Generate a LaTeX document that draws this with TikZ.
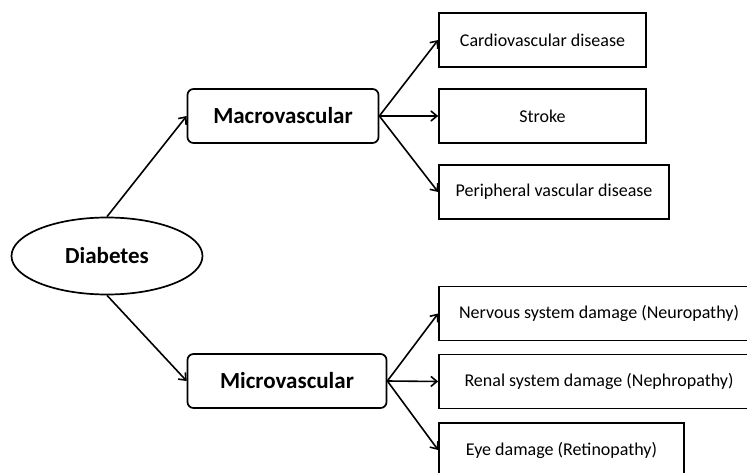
\documentclass[tikz,border=0pt]{standalone}
\usepackage{fontspec}
\setmainfont{Carlito}
\usetikzlibrary{arrows.meta,positioning,shapes.geometric}
\tikzset{
  rootnode/.style={ellipse, draw, line width=1.7pt, minimum width=191pt, minimum height=77pt, inner sep=0pt, font=\fontsize{23}{27}\selectfont\bfseries},
  groupbox/.style={draw, rounded corners=6pt, line width=1.7pt, minimum height=54pt, inner sep=0pt, font=\fontsize{23}{27}\selectfont\bfseries},
  itembox/.style={draw, line width=1.7pt, minimum height=54pt, inner sep=0pt, font=\fontsize{18}{21}\selectfont},
  link/.style={-{Straight Barb[length=6pt,width=10pt]}, line width=1.6pt}
}
\begin{document}
\begin{tikzpicture}[x=1pt,y=-1pt]
  \useasboundingbox (0,0) rectangle (747,473);
  \clip (0,0) rectangle (747,473);

  % Root
  \node[rootnode] (diab) at (107,256) {Diabetes};

  % Groups
  \node[groupbox, minimum width=191pt] (macro) at (283,116) {Macrovascular};
  \node[groupbox, minimum width=199pt] (micro) at (287,381) {Microvascular};

  % Macrovascular outcomes
  \node[itembox, minimum width=207pt] (cardio) at (542.5,40) {Cardiovascular disease};
  \node[itembox, minimum width=207pt] (stroke) at (542.5,116) {Stroke};
  \node[itembox, minimum width=230pt] (periph) at (554,192) {Peripheral vascular disease};

  % Microvascular outcomes
  \node[itembox, minimum width=320pt] (neuro) at (599,313.5) {Nervous system damage (Neuropathy)};
  \node[itembox, minimum width=320pt] (nephro) at (599,381.5) {Renal system damage (Nephropathy)};
  \node[itembox, minimum width=245pt] (retino) at (561.5,450) {Eye damage (Retinopathy)};

  % Connectors
  \draw[link] (diab.north) -- (macro.west);
  \draw[link] (diab.south) -- (micro.west);
  \foreach \n in {cardio,stroke,periph} \draw[link] (macro.east) -- (\n.west);
  \foreach \n in {neuro,nephro,retino} \draw[link] (micro.east) -- (\n.west);
\end{tikzpicture}
\end{document}
